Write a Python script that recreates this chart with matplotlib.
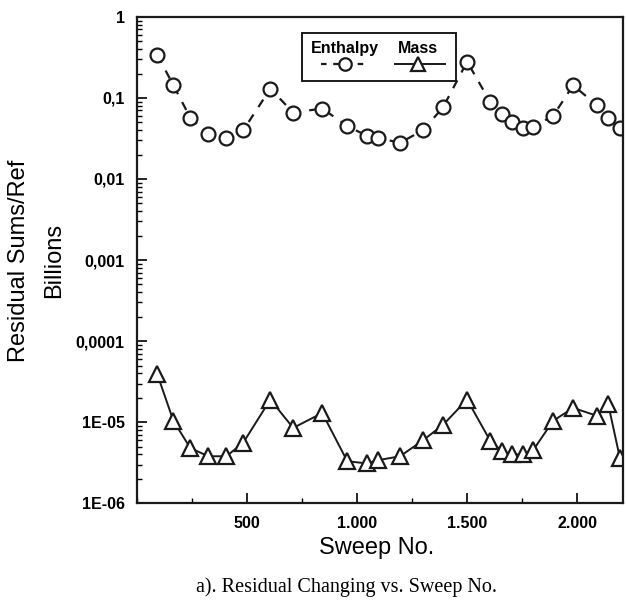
import matplotlib
matplotlib.use("Agg")
import matplotlib.pyplot as plt
from matplotlib.lines import Line2D
from matplotlib.patches import Rectangle
from matplotlib.ticker import FixedLocator, MultipleLocator, LogLocator, NullFormatter

# sweep numbers (shared by both series)
sweep = [91, 164, 241, 323, 405, 482, 605, 709, 841, 955, 1045, 1095, 1195,
         1300, 1391, 1500, 1605, 1659, 1705, 1755, 1800, 1891, 1982, 2091,
         2141, 2195]

enthalpy = [0.34, 0.143, 0.057, 0.036, 0.032, 0.040, 0.13, 0.066, 0.074,
            0.045, 0.034, 0.032, 0.028, 0.040, 0.077, 0.28, 0.089, 0.064,
            0.050, 0.043, 0.044, 0.060, 0.143, 0.081, 0.057, 0.042]

mass = [3.9e-5, 1.04e-5, 4.8e-6, 3.8e-6, 3.8e-6, 5.6e-6, 1.9e-5, 8.5e-6,
        1.3e-5, 3.3e-6, 3.1e-6, 3.4e-6, 3.8e-6, 6.0e-6, 9.3e-6, 1.9e-5,
        5.9e-6, 4.4e-6, 4.0e-6, 4.0e-6, 4.5e-6, 1.04e-5, 1.5e-5, 1.2e-5,
        1.7e-5, 3.6e-6]

y_ticks = [1, 0.1, 0.01, 0.001, 0.0001, 1e-5, 1e-6]
y_labels = ["1", "0,1", "0,01", "0,001", "0,0001", "1E-05", "1E-06"]
x_ticks = [500, 1000, 1500, 2000]
x_labels = ["500", "1.000", "1.500", "2.000"]

plt.rcParams['font.family'] = ['Liberation Sans', 'DejaVu Sans']

fig = plt.figure(figsize=(6.27, 6.02), dpi=100)
ax = fig.add_axes([0.219, 0.164, 0.775, 0.808])

col = '#1a1a1a'
ax.plot(sweep, enthalpy, ls=(0, (4, 4)), color=col, lw=1.6, marker='o',
        ms=10, mfc='white', mec=col, mew=1.6)
ax.plot(sweep, mass, ls='-', color=col, lw=1.4, marker='^', ms=11,
        mfc='white', mec=col, mew=1.6)

ax.set_yscale('log')
ax.set_ylim(1e-6, 1)
ax.set_xlim(0, 2210)

ax.yaxis.set_major_locator(FixedLocator(y_ticks))
ax.set_yticklabels(y_labels)
ax.yaxis.set_minor_locator(LogLocator(base=10, subs=range(2, 10)))
ax.yaxis.set_minor_formatter(NullFormatter())
ax.xaxis.set_major_locator(FixedLocator(x_ticks))
ax.set_xticklabels(x_labels)
ax.xaxis.set_minor_locator(MultipleLocator(250))

ax.tick_params(which='both', direction='in', top=False, right=False)
ax.tick_params(which='major', length=7, width=1.2, labelsize=11.5, pad=9)
ax.tick_params(which='minor', length=3.5, width=1.0)
for lab in ax.get_xticklabels() + ax.get_yticklabels():
    lab.set_fontweight('bold')
for sp in ax.spines.values():
    sp.set_linewidth(1.6)
    sp.set_color(col)

# legend box with labels above the line samples
ax.add_patch(Rectangle((0.338, 0.868), 0.318, 0.098, transform=ax.transAxes,
                       fill=False, lw=1.4, ec=col, zorder=5))
ax.text(0.428, 0.934, "Enthalpy", transform=ax.transAxes, ha='center',
        va='center', fontsize=11.5, fontweight='bold')
ax.text(0.578, 0.934, "Mass", transform=ax.transAxes, ha='center',
        va='center', fontsize=11.5, fontweight='bold')
ax.add_line(Line2D([0.377, 0.473], [0.903, 0.903], transform=ax.transAxes,
                   ls=(0, (2.5, 3)), color=col, lw=1.6, zorder=6))
ax.add_line(Line2D([0.428], [0.903], transform=ax.transAxes, ls='none',
                   marker='o', ms=9, mfc='white', mec=col, mew=1.6, zorder=7))
ax.add_line(Line2D([0.531, 0.634], [0.903, 0.903], transform=ax.transAxes,
                   ls='-', color=col, lw=1.4, zorder=6))
ax.add_line(Line2D([0.578], [0.903], transform=ax.transAxes, ls='none',
                   marker='^', ms=10, mfc='white', mec=col, mew=1.6, zorder=7))

fig.text(0.030, 0.567, "Residual Sums/Ref", rotation=90, ha='center',
         va='center', fontsize=17)
fig.text(0.086, 0.568, "Billions", rotation=90, ha='center', va='center',
         fontsize=17)
fig.text(0.600, 0.089, "Sweep No.", ha='center', va='center', fontsize=17)
fig.text(0.552, 0.024, "a). Residual Changing vs. Sweep No.", ha='center',
         va='center', fontsize=14.5, family=['Liberation Serif', 'DejaVu Serif'])

fig.savefig("out.png", dpi=100)
